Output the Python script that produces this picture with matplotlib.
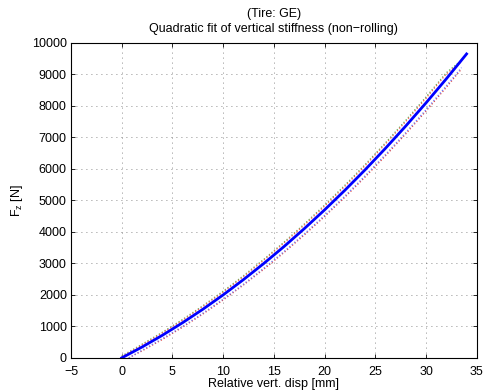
import matplotlib
matplotlib.use("Agg")
import matplotlib.pyplot as plt

# quadratic fit of Fz vs relative vertical displacement
fit_disp = [0, 2, 4, 6, 8, 10, 12, 14, 16, 18, 20, 22, 24, 26, 28, 30, 32, 34]
fit_fz = [0, 344, 716, 1116, 1543, 1999, 2483, 2994, 3533, 4101, 4696,
          5319, 5970, 6649, 7356, 8091, 8854, 9644]

# measured runs (upper branch)
up_disp = [0, 2, 4, 6, 8, 10, 12, 14, 16, 18, 20, 22, 24, 26, 28, 30, 32, 33.5]
up_fz_a = [60, 434, 813, 1220, 1655, 2117, 2608, 3126, 3673, 4247, 4849,
           5479, 6137, 6823, 7537, 8279, 9049, 9444]
up_fz_b = [40, 410, 790, 1195, 1630, 2090, 2580, 3100, 3645, 4215, 4815,
           5445, 6100, 6790, 7500, 8240, 9010, 9400]

# measured runs (lower branch)
lo_disp = [0.7, 2, 4, 6, 8, 10, 12, 14, 16, 18, 20, 22, 24, 26, 28, 30, 32, 33.5]
lo_fz_a = [0, 220, 583, 973, 1391, 1837, 2311, 2812, 3342, 3900, 4485,
           5098, 5740, 6409, 7106, 7831, 8584, 9167]
lo_fz_b = [0, 245, 610, 1000, 1420, 1865, 2340, 2845, 3375, 3935, 4520,
           5135, 5780, 6450, 7150, 7875, 8630, 9210]

plt.rcParams["font.family"] = ["Liberation Sans", "DejaVu Sans"]
plt.rcParams["font.size"] = 9

fig = plt.figure(figsize=(4.83, 3.92), dpi=100)
ax = fig.add_axes([0.147, 0.087, 0.840, 0.804])

ax.plot(up_disp, up_fz_a, ":", color="#5cb85c", lw=0.9)
ax.plot(up_disp, up_fz_b, ":", color="#ff5a50", lw=0.9)
ax.plot(lo_disp, lo_fz_a, ":", color="#e0403a", lw=0.9)
ax.plot(lo_disp, lo_fz_b, ":", color="#6a7aff", lw=0.9)
ax.plot(fit_disp, fit_fz, "-", color="#0000ff", lw=2.0)

ax.set_xlim(-5, 35)
ax.set_ylim(0, 10000)
ax.set_xticks(range(-5, 36, 5))
ax.set_yticks(range(0, 10001, 1000))
ax.set_xticklabels([str(v).replace("-", "\u2212") for v in range(-5, 36, 5)])
ax.tick_params(direction="in", top=True, right=True, length=3, width=0.6, pad=3)
ax.tick_params(axis="x", pad=6)
ax.grid(True, linestyle=(0, (1, 5)), color="black", lw=0.6, alpha=0.6)
for s in ax.spines.values():
    s.set_linewidth(0.8)

ax.set_xlabel("Relative vert. disp [mm]", labelpad=0)
ax.set_ylabel("F$_\\mathregular{z}$ [N]", labelpad=5)
ax.set_title("(Tire: GE)\nQuadratic fit of vertical stiffness (non\u2212rolling)",
             fontsize=9, pad=8, linespacing=1.3)

fig.savefig("out.png", dpi=100)
